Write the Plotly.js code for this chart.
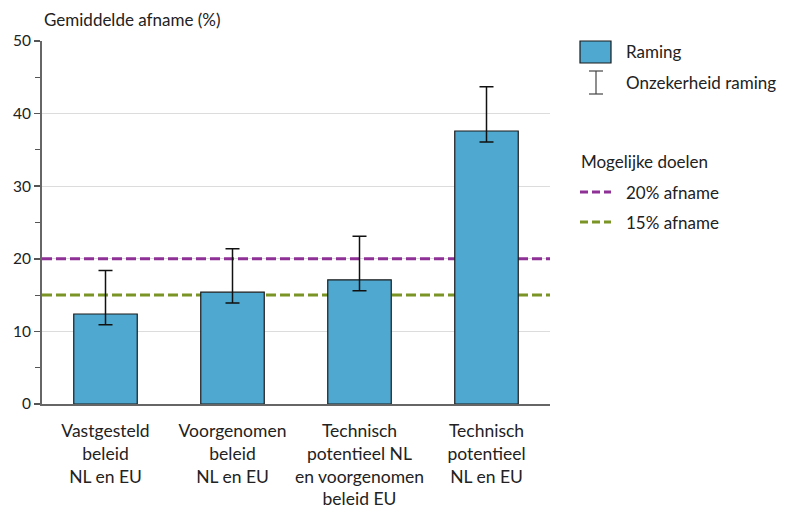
<!DOCTYPE html>
<html>
<head>
<meta charset="utf-8">
<script src="https://cdn.plot.ly/plotly-3.0.1.min.js"></script>
<style>html,body{margin:0;padding:0;background:#fff;}#chart{width:785px;height:512px;}</style>
</head>
<body>
<div id="chart"></div>
<script>
const categories = [
  "Vastgesteld<br>beleid<br>NL en EU",
  "Voorgenomen<br>beleid<br>NL en EU",
  "Technisch<br>potentieel NL<br>en voorgenomen<br>beleid EU",
  "Technisch<br>potentieel<br>NL en EU"
];
const raming = [12.4, 15.4, 17.1, 37.6];
const errorHigh = [18.4, 21.4, 23.1, 43.7];
const errorLow = [10.9, 13.9, 15.6, 36.1];
const targetValues = [20, 15];
const targetLabels = ["20% afname", "15% afname"];
const targetColors = ["#8e3096", "#7a9526"];
const yTicks = [0, 10, 20, 30, 40, 50];

const FONT = "Lato, 'Open Sans', sans-serif";

const trace = {
  type: "bar",
  x: [0, 1, 2, 3],
  y: raming,
  width: 0.5,
  marker: {color: "#4fa8cf", line: {color: "#1b1b1b", width: 1.2}},
  error_y: {
    type: "data",
    symmetric: false,
    array: errorHigh.map((h, i) => h - raming[i]),
    arrayminus: raming.map((r, i) => r - errorLow[i]),
    color: "#111",
    thickness: 1.5,
    width: 7
  },
  hoverinfo: "none",
  showlegend: false
};

const shapes = targetValues.map((v, i) => ({
  type: "line", xref: "x", yref: "y", x0: -0.5, x1: 3.5, y0: v, y1: v,
  layer: "between",
  line: {color: targetColors[i], width: 3, dash: "10px,4px"}
}));

const pw = 508, ph = 363;
function px(x) { return (x - 42) / pw; }
function py(y) { return (404 - y) / ph; }
// legend shapes
shapes.push({type: "rect", xref: "paper", yref: "paper", x0: px(580), x1: px(611), y0: py(63), y1: py(41),
  fillcolor: "#4fa8cf", line: {color: "#1b1b1b", width: 1.2}});
shapes.push({type: "line", xref: "paper", yref: "paper", x0: px(596), x1: px(596), y0: py(71), y1: py(94), line: {color: "#444", width: 1.2}});
shapes.push({type: "line", xref: "paper", yref: "paper", x0: px(589), x1: px(603), y0: py(71), y1: py(71), line: {color: "#444", width: 1.2}});
shapes.push({type: "line", xref: "paper", yref: "paper", x0: px(589), x1: px(603), y0: py(94), y1: py(94), line: {color: "#444", width: 1.2}});
[192, 222].forEach((yy, i) => {
  shapes.push({type: "line", xref: "paper", yref: "paper", x0: px(580), x1: px(611), y0: py(yy), y1: py(yy),
    line: {color: targetColors[i], width: 3, dash: "8px,4px"}});
});

const AF = {size: 17, color: "#222"};
const annotations = [
  {text: "Gemiddelde afname (%)", xref: "paper", yref: "paper", x: px(42), y: py(20), xanchor: "left", yanchor: "middle", showarrow: false, font: AF},
  {text: "Raming", xref: "paper", yref: "paper", x: px(624), y: py(52), xanchor: "left", yanchor: "middle", showarrow: false, font: AF},
  {text: "Onzekerheid raming", xref: "paper", yref: "paper", x: px(624), y: py(83), xanchor: "left", yanchor: "middle", showarrow: false, font: AF},
  {text: "Mogelijke doelen", xref: "paper", yref: "paper", x: px(579), y: py(161), xanchor: "left", yanchor: "middle", showarrow: false, font: AF},
  {text: targetLabels[0], xref: "paper", yref: "paper", x: px(624), y: py(192), xanchor: "left", yanchor: "middle", showarrow: false, font: AF},
  {text: targetLabels[1], xref: "paper", yref: "paper", x: px(624), y: py(222), xanchor: "left", yanchor: "middle", showarrow: false, font: AF}
];

const layout = {
  width: 785, height: 512,
  margin: {l: 42, r: 235, t: 41, b: 108, pad: 0},
  paper_bgcolor: "#fff", plot_bgcolor: "#fff",
  font: {family: FONT, size: 16, color: "#222"},
  showlegend: false,
  bargap: 0.5,
  xaxis: {
    range: [-0.5, 3.5],
    tickvals: [0, 1, 2, 3],
    ticktext: categories,
    ticks: "", showgrid: false, zeroline: false,
    showline: true, linecolor: "#666", linewidth: 2,
    tickfont: {size: 17.5, color: "#222"},
    ticklabelstandoff: 10,
    fixedrange: true
  },
  yaxis: {
    range: [0, 50],
    tickvals: yTicks,
    ticktext: yTicks.map(String),
    ticks: "outside", ticklen: 6, tickcolor: "#555", tickwidth: 1.5,
    minor: {dtick: 5, ticks: "outside", ticklen: 5, tickcolor: "#555", tickwidth: 1, showgrid: false},
    showgrid: true, gridcolor: "#dcdcdc", gridwidth: 1.2,
    zeroline: false,
    showline: true, linecolor: "#666", linewidth: 2,
    tickfont: {size: 15.5, color: "#222"},
    fixedrange: true
  },
  shapes: shapes,
  annotations: annotations
};

Plotly.newPlot("chart", [trace], layout, {displayModeBar: false, staticPlot: true});
</script>
</body>
</html>
